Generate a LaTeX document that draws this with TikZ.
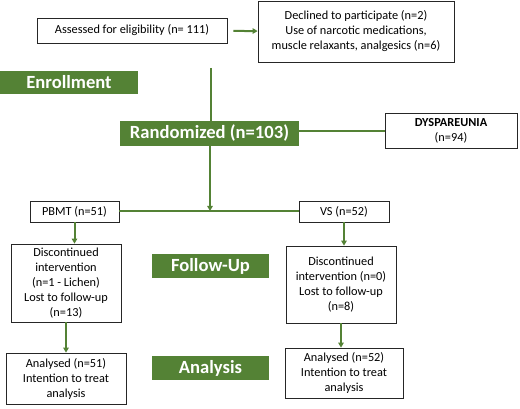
\documentclass[tikz,border=0pt]{standalone}
\usepackage{fontspec}
\setmainfont{Carlito}
\usetikzlibrary{arrows.meta}
\definecolor{stagegreen}{RGB}{84,130,53}
\tikzset{
    infobox/.style={draw=black!85, line width=0.8pt, fill=white, align=center,
        inner sep=2pt, font=\fontsize{12.3}{15}\selectfont},
    stagebox/.style={fill=stagegreen, text=white, inner sep=0, align=center,
        font=\fontsize{18.6}{22}\selectfont\bfseries},
    flow/.style={draw=stagegreen, line width=2pt},
    flowarrow/.style={flow, -{Triangle[length=5pt, width=5.5pt]}}
}
\begin{document}
\begin{tikzpicture}[x=1pt, y=-1pt]

    \useasboundingbox (0, 0) rectangle (520, 409);

    % Screening
    \node[infobox, minimum width=190, minimum height=25] (assessed) at (132, 30.5)
        {Assessed for eligibility (n= 111)};
    \node[infobox, minimum width=196, minimum height=61] (declined) at (356, 31.5)
        {Declined to participate (n=2)\\ Use of narcotic medications,\\
        muscle relaxants, analgesics (n=6)};

    % Stages
    \node[stagebox, minimum width=138, minimum height=23] (enroll) at (69, 82.5) {Enrollment};
    \node[stagebox, minimum width=179, minimum height=25] (random) at (209.5, 133.5)
        {Randomized (n=103)};
    \node[stagebox, minimum width=117, minimum height=24] (followup) at (210.5, 266) {Follow-Up};
    \node[stagebox, minimum width=117, minimum height=24] (analysis) at (210.5, 368) {Analysis};

    \node[infobox, minimum width=132, minimum height=35] (dysp) at (451, 130.5)
        {\textbf{DYSPAREUNIA}\\ (n=94)};

    % Groups
    \node[infobox, minimum width=89, minimum height=21] (pbmt) at (74.5, 211.5) {PBMT (n=51)};
    \node[infobox, minimum width=90, minimum height=21] (vs) at (344, 211.5) {VS (n=52)};

    \node[infobox, minimum width=110, minimum height=78] (discL) at (66, 283)
        {Discontinued\\ intervention\\ (n=1 - Lichen)\\ Lost to follow-up\\ (n=13)};
    \node[infobox, minimum width=110, minimum height=77] (discR) at (341, 284.5)
        {Discontinued\\ intervention (n=0)\\ Lost to follow-up\\ (n=8)};

    \node[infobox, minimum width=120, minimum height=51] (anaL) at (66, 378.5)
        {Analysed (n=51)\\ Intention to treat\\ analysis};
    \node[infobox, minimum width=118, minimum height=50] (anaR) at (344, 373)
        {Analysed (n=52)\\ Intention to treat\\ analysis};

    % Free ends
    \coordinate (trunk) at (211, 68);
    \coordinate (side) at (299, 131);
    \coordinate (split) at (210, 211);

    % Connectors
    \draw[flowarrow, shorten <=6pt] (assessed) -- (declined);
    \draw[flow] (trunk) -- (trunk |- random.north);
    \draw[flow] (side) -- (side -| dysp.west);
    \draw[flowarrow] (split |- random.south) -- (split);
    \draw[flow] (pbmt.east) -- (vs.west);
    \foreach \a/\b in {pbmt/discL, vs/discR, discL/anaL, discR/anaR}
        \draw[flowarrow] (\a.south) -- (\a.south |- \b.north);

\end{tikzpicture}
\end{document}
